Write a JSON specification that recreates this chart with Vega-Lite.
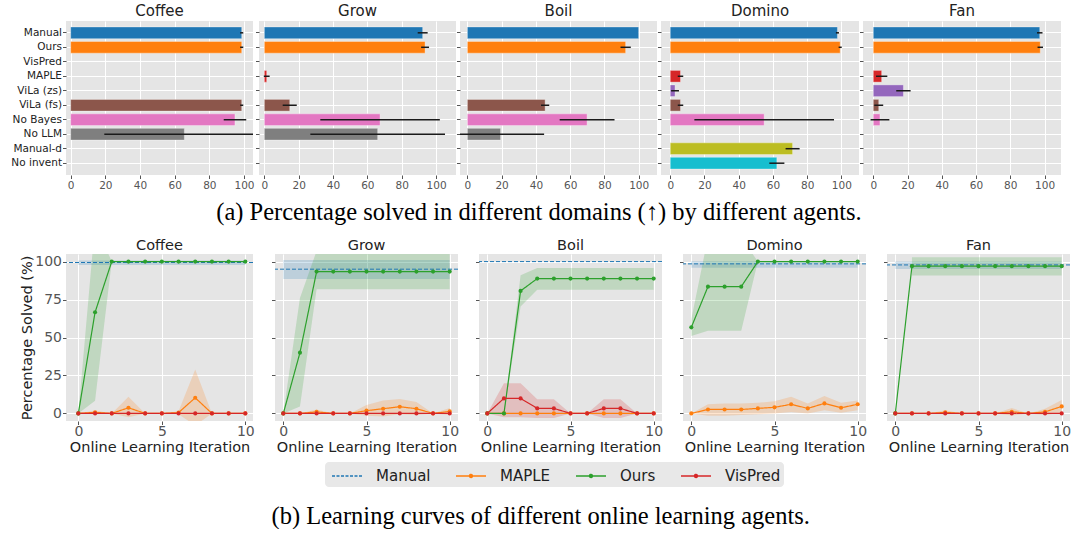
{
"$schema": "https://vega.github.io/schema/vega-lite/v6.json",
"background": "white",
"padding": {"left": 10, "top": 4, "right": 2, "bottom": 0},
"title": {"text": "(b) Learning curves of different online learning agents.", "orient": "bottom", "font": "Liberation Serif", "fontSize": 24.5, "fontWeight": "normal", "color": "#000000", "anchor": "middle", "offset": 18, "dx": 0},
"datasets": {
"bars": [
{"d":"Coffee","a":"Manual","v":98.7,"lo":97.8,"hi":99.6},
{"d":"Coffee","a":"Ours","v":98.7,"lo":97.8,"hi":99.6},
{"d":"Coffee","a":"ViLa (fs)","v":98.7,"lo":97.8,"hi":99.6},
{"d":"Coffee","a":"No Bayes","v":94.8,"lo":88.3,"hi":101.3},
{"d":"Coffee","a":"No LLM","v":65.6,"lo":19.4,"hi":111.8},
{"d":"Grow","a":"Manual","v":92.2,"lo":89.3,"hi":95.1},
{"d":"Grow","a":"Ours","v":93.6,"lo":91.3,"hi":95.9},
{"d":"Grow","a":"MAPLE","v":1.4,"lo":-0.3,"hi":3.1},
{"d":"Grow","a":"ViLa (fs)","v":14.8,"lo":10.7,"hi":18.9},
{"d":"Grow","a":"No Bayes","v":67.4,"lo":32.6,"hi":102.2},
{"d":"Grow","a":"No LLM","v":66,"lo":26.8,"hi":105.2},
{"d":"Boil","a":"Manual","v":100,"lo":100,"hi":100},
{"d":"Boil","a":"Ours","v":92.4,"lo":89.4,"hi":95.4},
{"d":"Boil","a":"ViLa (fs)","v":45.4,"lo":43,"hi":47.8},
{"d":"Boil","a":"No Bayes","v":69.9,"lo":53.9,"hi":85.9},
{"d":"Boil","a":"No LLM","v":19.4,"lo":-6,"hi":44.8},
{"d":"Domino","a":"Manual","v":97.7,"lo":96.8,"hi":98.6},
{"d":"Domino","a":"Ours","v":99.3,"lo":98.4,"hi":100.2},
{"d":"Domino","a":"MAPLE","v":6,"lo":4.4,"hi":7.6},
{"d":"Domino","a":"ViLa (zs)","v":2.8,"lo":0.5,"hi":5.1},
{"d":"Domino","a":"ViLa (fs)","v":6,"lo":4.4,"hi":7.6},
{"d":"Domino","a":"No Bayes","v":54.9,"lo":14.1,"hi":95.7},
{"d":"Domino","a":"Manual-d","v":71.5,"lo":67.4,"hi":75.6},
{"d":"Domino","a":"No invent","v":62.3,"lo":57.9,"hi":66.7},
{"d":"Fan","a":"Manual","v":97.2,"lo":95.6,"hi":98.8},
{"d":"Fan","a":"Ours","v":97.5,"lo":95.9,"hi":99.1},
{"d":"Fan","a":"MAPLE","v":4.9,"lo":1.6,"hi":8.2},
{"d":"Fan","a":"ViLa (zs)","v":17.6,"lo":13.4,"hi":21.8},
{"d":"Fan","a":"ViLa (fs)","v":3.2,"lo":0.6,"hi":5.8},
{"d":"Fan","a":"No Bayes","v":3.9,"lo":-1.6,"hi":9.4}
],
"curves": [
{"d":"Coffee","a":"Manual","x":0,"m":99.4,"lo":97.8,"hi":100.8},
{"d":"Coffee","a":"Manual","x":10,"m":99.4,"lo":97.8,"hi":100.8},
{"d":"Coffee","a":"MAPLE","x":0,"m":0,"lo":0,"hi":0},
{"d":"Coffee","a":"MAPLE","x":1,"m":0.7,"lo":-0.5,"hi":1.9},
{"d":"Coffee","a":"MAPLE","x":2,"m":0,"lo":0,"hi":0},
{"d":"Coffee","a":"MAPLE","x":3,"m":3.7,"lo":-2.5,"hi":11},
{"d":"Coffee","a":"MAPLE","x":4,"m":0,"lo":0,"hi":0},
{"d":"Coffee","a":"MAPLE","x":5,"m":0,"lo":0,"hi":0},
{"d":"Coffee","a":"MAPLE","x":6,"m":0.5,"lo":-0.5,"hi":1.5},
{"d":"Coffee","a":"MAPLE","x":7,"m":10.3,"lo":-8,"hi":29},
{"d":"Coffee","a":"MAPLE","x":8,"m":0,"lo":0,"hi":0},
{"d":"Coffee","a":"MAPLE","x":9,"m":0,"lo":0,"hi":0},
{"d":"Coffee","a":"MAPLE","x":10,"m":0,"lo":0,"hi":0},
{"d":"Coffee","a":"Ours","x":0,"m":0,"lo":0,"hi":0},
{"d":"Coffee","a":"Ours","x":1,"m":66.6,"lo":8.4,"hi":125},
{"d":"Coffee","a":"Ours","x":2,"m":100,"lo":100,"hi":100},
{"d":"Coffee","a":"Ours","x":3,"m":100,"lo":100,"hi":100},
{"d":"Coffee","a":"Ours","x":4,"m":100,"lo":100,"hi":100},
{"d":"Coffee","a":"Ours","x":5,"m":100,"lo":100,"hi":100},
{"d":"Coffee","a":"Ours","x":6,"m":100,"lo":100,"hi":100},
{"d":"Coffee","a":"Ours","x":7,"m":100,"lo":100,"hi":100},
{"d":"Coffee","a":"Ours","x":8,"m":100,"lo":100,"hi":100},
{"d":"Coffee","a":"Ours","x":9,"m":100,"lo":100,"hi":100},
{"d":"Coffee","a":"Ours","x":10,"m":100,"lo":100,"hi":100},
{"d":"Coffee","a":"VisPred","x":0,"m":0,"lo":0,"hi":0},
{"d":"Coffee","a":"VisPred","x":1,"m":0,"lo":0,"hi":0},
{"d":"Coffee","a":"VisPred","x":2,"m":0,"lo":0,"hi":0},
{"d":"Coffee","a":"VisPred","x":3,"m":0,"lo":0,"hi":0},
{"d":"Coffee","a":"VisPred","x":4,"m":0,"lo":0,"hi":0},
{"d":"Coffee","a":"VisPred","x":5,"m":0,"lo":0,"hi":0},
{"d":"Coffee","a":"VisPred","x":6,"m":0,"lo":0,"hi":0},
{"d":"Coffee","a":"VisPred","x":7,"m":0,"lo":0,"hi":0},
{"d":"Coffee","a":"VisPred","x":8,"m":0,"lo":0,"hi":0},
{"d":"Coffee","a":"VisPred","x":9,"m":0,"lo":0,"hi":0},
{"d":"Coffee","a":"VisPred","x":10,"m":0,"lo":0,"hi":0},
{"d":"Grow","a":"Manual","x":0,"m":95,"lo":88.6,"hi":101},
{"d":"Grow","a":"Manual","x":10,"m":95,"lo":88.6,"hi":101},
{"d":"Grow","a":"MAPLE","x":0,"m":0,"lo":0,"hi":0},
{"d":"Grow","a":"MAPLE","x":1,"m":0,"lo":0,"hi":0},
{"d":"Grow","a":"MAPLE","x":2,"m":1,"lo":-0.5,"hi":2.5},
{"d":"Grow","a":"MAPLE","x":3,"m":0,"lo":0,"hi":0},
{"d":"Grow","a":"MAPLE","x":4,"m":0,"lo":0,"hi":0},
{"d":"Grow","a":"MAPLE","x":5,"m":1.8,"lo":-1.5,"hi":5.5},
{"d":"Grow","a":"MAPLE","x":6,"m":3.1,"lo":-2,"hi":8.5},
{"d":"Grow","a":"MAPLE","x":7,"m":4.4,"lo":-0.5,"hi":9.5},
{"d":"Grow","a":"MAPLE","x":8,"m":3.1,"lo":-1,"hi":7.5},
{"d":"Grow","a":"MAPLE","x":9,"m":0,"lo":0,"hi":0},
{"d":"Grow","a":"MAPLE","x":10,"m":1.3,"lo":-1,"hi":3.6},
{"d":"Grow","a":"Ours","x":0,"m":0,"lo":0,"hi":0},
{"d":"Grow","a":"Ours","x":1,"m":40,"lo":4.5,"hi":76},
{"d":"Grow","a":"Ours","x":2,"m":93.4,"lo":81.8,"hi":107},
{"d":"Grow","a":"Ours","x":3,"m":93.4,"lo":81.8,"hi":107},
{"d":"Grow","a":"Ours","x":4,"m":93.4,"lo":81.8,"hi":107},
{"d":"Grow","a":"Ours","x":5,"m":93.4,"lo":81.8,"hi":107},
{"d":"Grow","a":"Ours","x":6,"m":93.4,"lo":81.8,"hi":107},
{"d":"Grow","a":"Ours","x":7,"m":93.4,"lo":81.8,"hi":107},
{"d":"Grow","a":"Ours","x":8,"m":93.4,"lo":81.8,"hi":107},
{"d":"Grow","a":"Ours","x":9,"m":93.4,"lo":81.8,"hi":107},
{"d":"Grow","a":"Ours","x":10,"m":93.4,"lo":81.8,"hi":107},
{"d":"Grow","a":"VisPred","x":0,"m":0,"lo":0,"hi":0},
{"d":"Grow","a":"VisPred","x":1,"m":0,"lo":0,"hi":0},
{"d":"Grow","a":"VisPred","x":2,"m":0,"lo":0,"hi":0},
{"d":"Grow","a":"VisPred","x":3,"m":0,"lo":0,"hi":0},
{"d":"Grow","a":"VisPred","x":4,"m":0,"lo":0,"hi":0},
{"d":"Grow","a":"VisPred","x":5,"m":0,"lo":0,"hi":0},
{"d":"Grow","a":"VisPred","x":6,"m":0,"lo":0,"hi":0},
{"d":"Grow","a":"VisPred","x":7,"m":0,"lo":0,"hi":0},
{"d":"Grow","a":"VisPred","x":8,"m":0,"lo":0,"hi":0},
{"d":"Grow","a":"VisPred","x":9,"m":0,"lo":0,"hi":0},
{"d":"Grow","a":"VisPred","x":10,"m":0,"lo":0,"hi":0},
{"d":"Boil","a":"Manual","x":0,"m":100,"lo":100,"hi":100},
{"d":"Boil","a":"Manual","x":10,"m":100,"lo":100,"hi":100},
{"d":"Boil","a":"MAPLE","x":0,"m":0,"lo":0,"hi":0},
{"d":"Boil","a":"MAPLE","x":1,"m":0,"lo":0,"hi":0},
{"d":"Boil","a":"MAPLE","x":2,"m":0,"lo":0,"hi":0},
{"d":"Boil","a":"MAPLE","x":3,"m":0,"lo":0,"hi":0},
{"d":"Boil","a":"MAPLE","x":4,"m":0,"lo":0,"hi":0},
{"d":"Boil","a":"MAPLE","x":5,"m":0,"lo":0,"hi":0},
{"d":"Boil","a":"MAPLE","x":6,"m":0,"lo":0,"hi":0},
{"d":"Boil","a":"MAPLE","x":7,"m":0,"lo":0,"hi":0},
{"d":"Boil","a":"MAPLE","x":8,"m":0,"lo":0,"hi":0},
{"d":"Boil","a":"MAPLE","x":9,"m":0,"lo":0,"hi":0},
{"d":"Boil","a":"MAPLE","x":10,"m":0,"lo":0,"hi":0},
{"d":"Boil","a":"Ours","x":0,"m":0,"lo":0,"hi":0},
{"d":"Boil","a":"Ours","x":1,"m":0,"lo":0,"hi":0},
{"d":"Boil","a":"Ours","x":2,"m":80.7,"lo":70.5,"hi":91},
{"d":"Boil","a":"Ours","x":3,"m":88.8,"lo":81.5,"hi":95.8},
{"d":"Boil","a":"Ours","x":4,"m":88.8,"lo":81.5,"hi":95.8},
{"d":"Boil","a":"Ours","x":5,"m":88.8,"lo":81.5,"hi":95.8},
{"d":"Boil","a":"Ours","x":6,"m":88.8,"lo":81.5,"hi":95.8},
{"d":"Boil","a":"Ours","x":7,"m":88.8,"lo":81.5,"hi":95.8},
{"d":"Boil","a":"Ours","x":8,"m":88.8,"lo":81.5,"hi":95.8},
{"d":"Boil","a":"Ours","x":9,"m":88.8,"lo":81.5,"hi":95.8},
{"d":"Boil","a":"Ours","x":10,"m":88.8,"lo":81.5,"hi":95.8},
{"d":"Boil","a":"VisPred","x":0,"m":0,"lo":0,"hi":0},
{"d":"Boil","a":"VisPred","x":1,"m":9.9,"lo":-2.6,"hi":19.8},
{"d":"Boil","a":"VisPred","x":2,"m":9.9,"lo":-2.6,"hi":19.8},
{"d":"Boil","a":"VisPred","x":3,"m":3.3,"lo":-3,"hi":9.4},
{"d":"Boil","a":"VisPred","x":4,"m":3.3,"lo":-3,"hi":9.4},
{"d":"Boil","a":"VisPred","x":5,"m":0,"lo":0,"hi":0},
{"d":"Boil","a":"VisPred","x":6,"m":0,"lo":0,"hi":0},
{"d":"Boil","a":"VisPred","x":7,"m":3.3,"lo":-3,"hi":9.4},
{"d":"Boil","a":"VisPred","x":8,"m":3.3,"lo":-3,"hi":9.4},
{"d":"Boil","a":"VisPred","x":9,"m":0,"lo":0,"hi":0},
{"d":"Boil","a":"VisPred","x":10,"m":0,"lo":0,"hi":0},
{"d":"Domino","a":"Manual","x":0,"m":98.5,"lo":96,"hi":100.3},
{"d":"Domino","a":"Manual","x":10,"m":98.5,"lo":96,"hi":100.3},
{"d":"Domino","a":"MAPLE","x":0,"m":0,"lo":0,"hi":0},
{"d":"Domino","a":"MAPLE","x":1,"m":2.6,"lo":-1.5,"hi":6},
{"d":"Domino","a":"MAPLE","x":2,"m":2.6,"lo":-1.5,"hi":6.5},
{"d":"Domino","a":"MAPLE","x":3,"m":2.6,"lo":-1,"hi":6.5},
{"d":"Domino","a":"MAPLE","x":4,"m":3.3,"lo":-0.5,"hi":7},
{"d":"Domino","a":"MAPLE","x":5,"m":4,"lo":0,"hi":8},
{"d":"Domino","a":"MAPLE","x":6,"m":6,"lo":1,"hi":11},
{"d":"Domino","a":"MAPLE","x":7,"m":3.3,"lo":0,"hi":6.5},
{"d":"Domino","a":"MAPLE","x":8,"m":6.6,"lo":2,"hi":11.5},
{"d":"Domino","a":"MAPLE","x":9,"m":3.7,"lo":0.5,"hi":7},
{"d":"Domino","a":"MAPLE","x":10,"m":6,"lo":2,"hi":8.5},
{"d":"Domino","a":"Ours","x":0,"m":56.7,"lo":51,"hi":62},
{"d":"Domino","a":"Ours","x":1,"m":83.5,"lo":54.5,"hi":116},
{"d":"Domino","a":"Ours","x":2,"m":83.5,"lo":54.5,"hi":116},
{"d":"Domino","a":"Ours","x":3,"m":83.5,"lo":54.5,"hi":116},
{"d":"Domino","a":"Ours","x":4,"m":100,"lo":100,"hi":100},
{"d":"Domino","a":"Ours","x":5,"m":100,"lo":100,"hi":100},
{"d":"Domino","a":"Ours","x":6,"m":100,"lo":100,"hi":100},
{"d":"Domino","a":"Ours","x":7,"m":100,"lo":100,"hi":100},
{"d":"Domino","a":"Ours","x":8,"m":100,"lo":100,"hi":100},
{"d":"Domino","a":"Ours","x":9,"m":100,"lo":100,"hi":100},
{"d":"Domino","a":"Ours","x":10,"m":100,"lo":100,"hi":100},
{"d":"Fan","a":"Manual","x":0,"m":97.8,"lo":95.2,"hi":100},
{"d":"Fan","a":"Manual","x":10,"m":97.8,"lo":95.2,"hi":100},
{"d":"Fan","a":"MAPLE","x":0,"m":0,"lo":0,"hi":0},
{"d":"Fan","a":"MAPLE","x":1,"m":0,"lo":0,"hi":0},
{"d":"Fan","a":"MAPLE","x":2,"m":0,"lo":0,"hi":0},
{"d":"Fan","a":"MAPLE","x":3,"m":0.7,"lo":-0.6,"hi":2},
{"d":"Fan","a":"MAPLE","x":4,"m":0,"lo":0,"hi":0},
{"d":"Fan","a":"MAPLE","x":5,"m":0,"lo":0,"hi":0},
{"d":"Fan","a":"MAPLE","x":6,"m":0,"lo":0,"hi":0},
{"d":"Fan","a":"MAPLE","x":7,"m":1.1,"lo":-1.3,"hi":3.5},
{"d":"Fan","a":"MAPLE","x":8,"m":0,"lo":0,"hi":0},
{"d":"Fan","a":"MAPLE","x":9,"m":1,"lo":-1,"hi":3},
{"d":"Fan","a":"MAPLE","x":10,"m":4.6,"lo":0.4,"hi":8.8},
{"d":"Fan","a":"Ours","x":0,"m":0,"lo":null,"hi":null},
{"d":"Fan","a":"Ours","x":1,"m":97,"lo":90.8,"hi":102.9},
{"d":"Fan","a":"Ours","x":2,"m":97,"lo":90.8,"hi":102.9},
{"d":"Fan","a":"Ours","x":3,"m":97,"lo":90.8,"hi":102.9},
{"d":"Fan","a":"Ours","x":4,"m":97,"lo":90.8,"hi":102.9},
{"d":"Fan","a":"Ours","x":5,"m":97,"lo":90.8,"hi":102.9},
{"d":"Fan","a":"Ours","x":6,"m":97,"lo":90.8,"hi":102.9},
{"d":"Fan","a":"Ours","x":7,"m":97,"lo":90.8,"hi":102.9},
{"d":"Fan","a":"Ours","x":8,"m":97,"lo":90.8,"hi":102.9},
{"d":"Fan","a":"Ours","x":9,"m":97,"lo":90.8,"hi":102.9},
{"d":"Fan","a":"Ours","x":10,"m":97,"lo":90.8,"hi":102.9},
{"d":"Fan","a":"VisPred","x":0,"m":0,"lo":0,"hi":0},
{"d":"Fan","a":"VisPred","x":1,"m":0,"lo":0,"hi":0},
{"d":"Fan","a":"VisPred","x":2,"m":0,"lo":0,"hi":0},
{"d":"Fan","a":"VisPred","x":3,"m":0,"lo":0,"hi":0},
{"d":"Fan","a":"VisPred","x":4,"m":0,"lo":0,"hi":0},
{"d":"Fan","a":"VisPred","x":5,"m":0,"lo":0,"hi":0},
{"d":"Fan","a":"VisPred","x":6,"m":0,"lo":0,"hi":0},
{"d":"Fan","a":"VisPred","x":7,"m":0,"lo":0,"hi":0},
{"d":"Fan","a":"VisPred","x":8,"m":0,"lo":0,"hi":0},
{"d":"Fan","a":"VisPred","x":9,"m":0,"lo":0,"hi":0},
{"d":"Fan","a":"VisPred","x":10,"m":0,"lo":0,"hi":0}
]
},
"spacing": 12,
"resolve": {"scale": {"color": "independent"}},
"vconcat": [
{
"data": {"name": "bars"},
"title": {"text": "(a) Percentage solved in different domains (↑) by different agents.", "orient": "bottom", "font": "Liberation Serif", "fontSize": 24.5, "fontWeight": "normal", "color": "#000000", "anchor": "middle", "offset": 10, "dx": 3},
"spacing": 0,
"resolve": {"scale": {"x": "independent", "y": "independent"}},
"hconcat": [
{"width": 187, "height": 154, "title": {"text": "Coffee", "fontSize": 15, "frame": "group", "offset": 2},
 "transform": [{"filter": "datum.d === 'Coffee'"}],
 "encoding": {"y": {"field": "a", "type": "nominal", "scale": {"domain": ["Manual","Ours","VisPred","MAPLE","ViLa (zs)","ViLa (fs)","No Bayes","No LLM","Manual-d","No invent"], "paddingInner": 0.19, "paddingOuter": 0.41}, "axis": {"title": null, "labelFontSize": 10.5, "labelColor": "#222222", "labelPadding": 1, "bandPosition": 0.5, "grid": true, "labelLimit": 200}}},
 "layer": [
  {"mark": {"type": "bar", "clip": true, "stroke": "#FFFFFF", "strokeOpacity": 0.35, "strokeWidth": 1}, "encoding": {"x": {"field": "v", "type": "quantitative", "scale": {"domain": [-2.7, 105.2], "nice": false}, "axis": {"values": [0,20,40,60,80,100], "title": null, "labelFontSize": 10.5, "labelPadding": 2, "labelOverlap": false, "labelFlush": false, "labelSeparation": 0}}, "color": {"field": "a", "type": "nominal", "scale": {"domain": ["Manual","Ours","VisPred","MAPLE","ViLa (zs)","ViLa (fs)","No Bayes","No LLM","Manual-d","No invent"], "range": ["#1f77b4","#ff7f0e","#2ca02c","#d62728","#9467bd","#8c564b","#e377c2","#7f7f7f","#bcbd22","#17becf"]}, "legend": null}}},
  {"mark": {"type": "rule", "clip": true, "color": "#1a1a1a", "strokeWidth": 1.5}, "encoding": {"x": {"field": "lo", "type": "quantitative", "scale": {"domain": [-2.7, 105.2], "nice": false}, "axis": {"values": [0,20,40,60,80,100], "title": null, "labelFontSize": 10.5, "labelPadding": 2, "labelOverlap": false, "labelFlush": false, "labelSeparation": 0}}, "x2": {"field": "hi"}}}
 ]},
{"width": 197, "height": 154, "title": {"text": "Grow", "fontSize": 15, "frame": "group", "offset": 2},
 "transform": [{"filter": "datum.d === 'Grow'"}],
 "encoding": {"y": {"field": "a", "type": "nominal", "scale": {"domain": ["Manual","Ours","VisPred","MAPLE","ViLa (zs)","ViLa (fs)","No Bayes","No LLM","Manual-d","No invent"], "paddingInner": 0.19, "paddingOuter": 0.41}, "axis": {"title": null, "labels": false, "bandPosition": 0.5, "grid": true}}},
 "layer": [
  {"mark": {"type": "bar", "clip": true, "stroke": "#FFFFFF", "strokeOpacity": 0.35, "strokeWidth": 1}, "encoding": {"x": {"field": "v", "type": "quantitative", "scale": {"domain": [-3.1, 111.6], "nice": false}, "axis": {"values": [0,20,40,60,80,100], "title": null, "labelFontSize": 10.5, "labelPadding": 2, "labelOverlap": false, "labelFlush": false, "labelSeparation": 0}}, "color": {"field": "a", "type": "nominal", "scale": {"domain": ["Manual","Ours","VisPred","MAPLE","ViLa (zs)","ViLa (fs)","No Bayes","No LLM","Manual-d","No invent"], "range": ["#1f77b4","#ff7f0e","#2ca02c","#d62728","#9467bd","#8c564b","#e377c2","#7f7f7f","#bcbd22","#17becf"]}, "legend": null}}},
  {"mark": {"type": "rule", "clip": true, "color": "#1a1a1a", "strokeWidth": 1.5}, "encoding": {"x": {"field": "lo", "type": "quantitative", "scale": {"domain": [-3.1, 111.6], "nice": false}, "axis": {"values": [0,20,40,60,80,100], "title": null, "labelFontSize": 10.5, "labelPadding": 2, "labelOverlap": false, "labelFlush": false, "labelSeparation": 0}}, "x2": {"field": "hi"}}}
 ]},
{"width": 197, "height": 154, "title": {"text": "Boil", "fontSize": 15, "frame": "group", "offset": 2},
 "transform": [{"filter": "datum.d === 'Boil'"}],
 "encoding": {"y": {"field": "a", "type": "nominal", "scale": {"domain": ["Manual","Ours","VisPred","MAPLE","ViLa (zs)","ViLa (fs)","No Bayes","No LLM","Manual-d","No invent"], "paddingInner": 0.19, "paddingOuter": 0.41}, "axis": {"title": null, "labels": false, "bandPosition": 0.5, "grid": true}}},
 "layer": [
  {"mark": {"type": "bar", "clip": true, "stroke": "#FFFFFF", "strokeOpacity": 0.35, "strokeWidth": 1}, "encoding": {"x": {"field": "v", "type": "quantitative", "scale": {"domain": [-4.3, 110.7], "nice": false}, "axis": {"values": [0,20,40,60,80,100], "title": null, "labelFontSize": 10.5, "labelPadding": 2, "labelOverlap": false, "labelFlush": false, "labelSeparation": 0}}, "color": {"field": "a", "type": "nominal", "scale": {"domain": ["Manual","Ours","VisPred","MAPLE","ViLa (zs)","ViLa (fs)","No Bayes","No LLM","Manual-d","No invent"], "range": ["#1f77b4","#ff7f0e","#2ca02c","#d62728","#9467bd","#8c564b","#e377c2","#7f7f7f","#bcbd22","#17becf"]}, "legend": null}}},
  {"mark": {"type": "rule", "clip": true, "color": "#1a1a1a", "strokeWidth": 1.5}, "encoding": {"x": {"field": "lo", "type": "quantitative", "scale": {"domain": [-4.3, 110.7], "nice": false}, "axis": {"values": [0,20,40,60,80,100], "title": null, "labelFontSize": 10.5, "labelPadding": 2, "labelOverlap": false, "labelFlush": false, "labelSeparation": 0}}, "x2": {"field": "hi"}}}
 ]},
{"width": 198, "height": 154, "title": {"text": "Domino", "fontSize": 15, "frame": "group", "offset": 2},
 "transform": [{"filter": "datum.d === 'Domino'"}],
 "encoding": {"y": {"field": "a", "type": "nominal", "scale": {"domain": ["Manual","Ours","VisPred","MAPLE","ViLa (zs)","ViLa (fs)","No Bayes","No LLM","Manual-d","No invent"], "paddingInner": 0.19, "paddingOuter": 0.41}, "axis": {"title": null, "labels": false, "bandPosition": 0.5, "grid": true}}},
 "layer": [
  {"mark": {"type": "bar", "clip": true, "stroke": "#FFFFFF", "strokeOpacity": 0.35, "strokeWidth": 1}, "encoding": {"x": {"field": "v", "type": "quantitative", "scale": {"domain": [-5.4, 110.3], "nice": false}, "axis": {"values": [0,20,40,60,80,100], "title": null, "labelFontSize": 10.5, "labelPadding": 2, "labelOverlap": false, "labelFlush": false, "labelSeparation": 0}}, "color": {"field": "a", "type": "nominal", "scale": {"domain": ["Manual","Ours","VisPred","MAPLE","ViLa (zs)","ViLa (fs)","No Bayes","No LLM","Manual-d","No invent"], "range": ["#1f77b4","#ff7f0e","#2ca02c","#d62728","#9467bd","#8c564b","#e377c2","#7f7f7f","#bcbd22","#17becf"]}, "legend": null}}},
  {"mark": {"type": "rule", "clip": true, "color": "#1a1a1a", "strokeWidth": 1.5}, "encoding": {"x": {"field": "lo", "type": "quantitative", "scale": {"domain": [-5.4, 110.3], "nice": false}, "axis": {"values": [0,20,40,60,80,100], "title": null, "labelFontSize": 10.5, "labelPadding": 2, "labelOverlap": false, "labelFlush": false, "labelSeparation": 0}}, "x2": {"field": "hi"}}}
 ]},
{"width": 198, "height": 154, "title": {"text": "Fan", "fontSize": 15, "frame": "group", "offset": 2},
 "transform": [{"filter": "datum.d === 'Fan'"}],
 "encoding": {"y": {"field": "a", "type": "nominal", "scale": {"domain": ["Manual","Ours","VisPred","MAPLE","ViLa (zs)","ViLa (fs)","No Bayes","No LLM","Manual-d","No invent"], "paddingInner": 0.19, "paddingOuter": 0.41}, "axis": {"title": null, "labels": false, "bandPosition": 0.5, "grid": true}}},
 "layer": [
  {"mark": {"type": "bar", "clip": true, "stroke": "#FFFFFF", "strokeOpacity": 0.35, "strokeWidth": 1}, "encoding": {"x": {"field": "v", "type": "quantitative", "scale": {"domain": [-6.0, 109.6], "nice": false}, "axis": {"values": [0,20,40,60,80,100], "title": null, "labelFontSize": 10.5, "labelPadding": 2, "labelOverlap": false, "labelFlush": false, "labelSeparation": 0}}, "color": {"field": "a", "type": "nominal", "scale": {"domain": ["Manual","Ours","VisPred","MAPLE","ViLa (zs)","ViLa (fs)","No Bayes","No LLM","Manual-d","No invent"], "range": ["#1f77b4","#ff7f0e","#2ca02c","#d62728","#9467bd","#8c564b","#e377c2","#7f7f7f","#bcbd22","#17becf"]}, "legend": null}}},
  {"mark": {"type": "rule", "clip": true, "color": "#1a1a1a", "strokeWidth": 1.5}, "encoding": {"x": {"field": "lo", "type": "quantitative", "scale": {"domain": [-6.0, 109.6], "nice": false}, "axis": {"values": [0,20,40,60,80,100], "title": null, "labelFontSize": 10.5, "labelPadding": 2, "labelOverlap": false, "labelFlush": false, "labelSeparation": 0}}, "x2": {"field": "hi"}}}
 ]}
]
},
{
"data": {"name": "curves"},
"spacing": 16,
"resolve": {"scale": {"x": "independent", "y": "independent"}},
"hconcat": [
{"width": 187, "height": 167, "title": {"text": "Coffee", "fontSize": 14.5, "frame": "group", "offset": 1},
 "transform": [{"filter": "datum.d === 'Coffee'"}],
 "layer": [
  {"transform": [{"filter": "datum.a === 'Manual'"}], "mark": {"type": "area", "opacity": 0.2, "clip": true},
   "encoding": {"x": {"field": "x", "type": "quantitative", "scale": {"domain": [-0.74, 10.46], "nice": false, "zero": false}, "axis": {"values": [0,5,10], "title": "Online Learning Iteration", "labelFontSize": 14, "titleFontSize": 14.5, "labelPadding": 0, "titlePadding": 2}},
    "y": {"field": "lo", "type": "quantitative", "scale": {"domain": [-5, 105], "nice": false, "zero": false}, "axis": {"values": [0,25,50,75,100], "title": "Percentage Solved (%)", "labelFontSize": 14, "titleFontSize": 14.5, "labelPadding": 1, "titlePadding": 0}},
    "y2": {"field": "hi"},
    "fill": {"field": "a", "type": "nominal", "scale": {"domain": ["Manual","MAPLE","Ours","VisPred"], "range": ["#1f77b4","#ff7f0e","#2ca02c","#d62728"]}, "legend": null}}},
  {"transform": [{"filter": "datum.a !== 'Manual'"}], "mark": {"type": "area", "opacity": 0.2, "clip": true},
   "encoding": {"x": {"field": "x", "type": "quantitative"}, "y": {"field": "lo", "type": "quantitative"}, "y2": {"field": "hi"},
    "fill": {"field": "a", "type": "nominal", "scale": {"domain": ["Manual","MAPLE","Ours","VisPred"], "range": ["#1f77b4","#ff7f0e","#2ca02c","#d62728"]}, "legend": null}}},
  {"transform": [{"filter": "datum.a === 'Manual' && datum.x === 0"}], "mark": {"type": "rule", "strokeWidth": 1},
   "encoding": {"y": {"field": "m", "type": "quantitative"},
    "color": {"field": "a", "type": "nominal", "title": null, "scale": {"domain": ["Manual","MAPLE","Ours","VisPred"], "range": ["#1f77b4","#ff7f0e","#2ca02c","#d62728"]}, "legend": {"encode": {"symbols": {"update": {"shape": {"signal": "datum.value === 'Manual' ? 'M-0.7,0H2.3' : 'M-0.7,0H2.3M0.95,0A0.15,0.15 0 1 1 0.65,0A0.15,0.15 0 1 1 0.95,0'"}, "strokeDash": {"signal": "datum.value === 'Manual' ? [3,1.5] : [1,0]"}}}}}},
    "strokeDash": {"field": "a", "type": "nominal", "title": null, "legend": null, "scale": {"domain": ["Manual","MAPLE","Ours","VisPred"], "range": [[4,2],[1,0],[1,0],[1,0]]}}}},
  {"transform": [{"filter": "datum.a !== 'Manual'"}], "mark": {"type": "line", "strokeWidth": 1.2, "clip": true},
   "encoding": {"x": {"field": "x", "type": "quantitative"}, "y": {"field": "m", "type": "quantitative"},
    "color": {"field": "a", "type": "nominal", "title": null, "scale": {"domain": ["Manual","MAPLE","Ours","VisPred"], "range": ["#1f77b4","#ff7f0e","#2ca02c","#d62728"]}},
    "strokeDash": {"field": "a", "type": "nominal", "title": null, "legend": null, "scale": {"domain": ["Manual","MAPLE","Ours","VisPred"], "range": [[4,2],[1,0],[1,0],[1,0]]}}}},
  {"transform": [{"filter": "datum.a !== 'Manual'"}], "mark": {"type": "point", "filled": true, "size": 17, "opacity": 1},
   "encoding": {"x": {"field": "x", "type": "quantitative"}, "y": {"field": "m", "type": "quantitative"},
    "fill": {"field": "a", "type": "nominal", "scale": {"domain": ["Manual","MAPLE","Ours","VisPred"], "range": ["#1f77b4","#ff7f0e","#2ca02c","#d62728"]}, "legend": null}}}
 ]},
{"width": 183, "height": 167, "title": {"text": "Grow", "fontSize": 14.5, "frame": "group", "offset": 1},
 "transform": [{"filter": "datum.d === 'Grow'"}],
 "layer": [
  {"transform": [{"filter": "datum.a === 'Manual'"}], "mark": {"type": "area", "opacity": 0.2, "clip": true},
   "encoding": {"x": {"field": "x", "type": "quantitative", "scale": {"domain": [-0.5, 10.5], "nice": false, "zero": false}, "axis": {"values": [0,5,10], "title": "Online Learning Iteration", "labelFontSize": 14, "titleFontSize": 14.5, "labelPadding": 0, "titlePadding": 2}},
    "y": {"field": "lo", "type": "quantitative", "scale": {"domain": [-5, 105], "nice": false, "zero": false}, "axis": {"values": [0,25,50,75,100], "title": null, "labels": false}},
    "y2": {"field": "hi"},
    "fill": {"field": "a", "type": "nominal", "scale": {"domain": ["Manual","MAPLE","Ours","VisPred"], "range": ["#1f77b4","#ff7f0e","#2ca02c","#d62728"]}, "legend": null}}},
  {"transform": [{"filter": "datum.a !== 'Manual'"}], "mark": {"type": "area", "opacity": 0.2, "clip": true},
   "encoding": {"x": {"field": "x", "type": "quantitative"}, "y": {"field": "lo", "type": "quantitative"}, "y2": {"field": "hi"},
    "fill": {"field": "a", "type": "nominal", "scale": {"domain": ["Manual","MAPLE","Ours","VisPred"], "range": ["#1f77b4","#ff7f0e","#2ca02c","#d62728"]}, "legend": null}}},
  {"transform": [{"filter": "datum.a === 'Manual' && datum.x === 0"}], "mark": {"type": "rule", "strokeWidth": 1},
   "encoding": {"y": {"field": "m", "type": "quantitative"},
    "color": {"field": "a", "type": "nominal", "title": null, "scale": {"domain": ["Manual","MAPLE","Ours","VisPred"], "range": ["#1f77b4","#ff7f0e","#2ca02c","#d62728"]}},
    "strokeDash": {"field": "a", "type": "nominal", "title": null, "legend": null, "scale": {"domain": ["Manual","MAPLE","Ours","VisPred"], "range": [[4,2],[1,0],[1,0],[1,0]]}}}},
  {"transform": [{"filter": "datum.a !== 'Manual'"}], "mark": {"type": "line", "strokeWidth": 1.2, "clip": true},
   "encoding": {"x": {"field": "x", "type": "quantitative"}, "y": {"field": "m", "type": "quantitative"},
    "color": {"field": "a", "type": "nominal", "title": null, "scale": {"domain": ["Manual","MAPLE","Ours","VisPred"], "range": ["#1f77b4","#ff7f0e","#2ca02c","#d62728"]}},
    "strokeDash": {"field": "a", "type": "nominal", "title": null, "legend": null, "scale": {"domain": ["Manual","MAPLE","Ours","VisPred"], "range": [[4,2],[1,0],[1,0],[1,0]]}}}},
  {"transform": [{"filter": "datum.a !== 'Manual'"}], "mark": {"type": "point", "filled": true, "size": 17, "opacity": 1},
   "encoding": {"x": {"field": "x", "type": "quantitative"}, "y": {"field": "m", "type": "quantitative"},
    "fill": {"field": "a", "type": "nominal", "scale": {"domain": ["Manual","MAPLE","Ours","VisPred"], "range": ["#1f77b4","#ff7f0e","#2ca02c","#d62728"]}, "legend": null}}}
 ]},
{"width": 183, "height": 167, "title": {"text": "Boil", "fontSize": 14.5, "frame": "group", "offset": 1},
 "transform": [{"filter": "datum.d === 'Boil'"}],
 "layer": [
  {"transform": [{"filter": "datum.a === 'Manual'"}], "mark": {"type": "area", "opacity": 0.2, "clip": true},
   "encoding": {"x": {"field": "x", "type": "quantitative", "scale": {"domain": [-0.5, 10.5], "nice": false, "zero": false}, "axis": {"values": [0,5,10], "title": "Online Learning Iteration", "labelFontSize": 14, "titleFontSize": 14.5, "labelPadding": 0, "titlePadding": 2}},
    "y": {"field": "lo", "type": "quantitative", "scale": {"domain": [-5, 105], "nice": false, "zero": false}, "axis": {"values": [0,25,50,75,100], "title": null, "labels": false}},
    "y2": {"field": "hi"},
    "fill": {"field": "a", "type": "nominal", "scale": {"domain": ["Manual","MAPLE","Ours","VisPred"], "range": ["#1f77b4","#ff7f0e","#2ca02c","#d62728"]}, "legend": null}}},
  {"transform": [{"filter": "datum.a !== 'Manual'"}], "mark": {"type": "area", "opacity": 0.2, "clip": true},
   "encoding": {"x": {"field": "x", "type": "quantitative"}, "y": {"field": "lo", "type": "quantitative"}, "y2": {"field": "hi"},
    "fill": {"field": "a", "type": "nominal", "scale": {"domain": ["Manual","MAPLE","Ours","VisPred"], "range": ["#1f77b4","#ff7f0e","#2ca02c","#d62728"]}, "legend": null}}},
  {"transform": [{"filter": "datum.a === 'Manual' && datum.x === 0"}], "mark": {"type": "rule", "strokeWidth": 1},
   "encoding": {"y": {"field": "m", "type": "quantitative"},
    "color": {"field": "a", "type": "nominal", "title": null, "scale": {"domain": ["Manual","MAPLE","Ours","VisPred"], "range": ["#1f77b4","#ff7f0e","#2ca02c","#d62728"]}},
    "strokeDash": {"field": "a", "type": "nominal", "title": null, "legend": null, "scale": {"domain": ["Manual","MAPLE","Ours","VisPred"], "range": [[4,2],[1,0],[1,0],[1,0]]}}}},
  {"transform": [{"filter": "datum.a !== 'Manual'"}], "mark": {"type": "line", "strokeWidth": 1.2, "clip": true},
   "encoding": {"x": {"field": "x", "type": "quantitative"}, "y": {"field": "m", "type": "quantitative"},
    "color": {"field": "a", "type": "nominal", "title": null, "scale": {"domain": ["Manual","MAPLE","Ours","VisPred"], "range": ["#1f77b4","#ff7f0e","#2ca02c","#d62728"]}},
    "strokeDash": {"field": "a", "type": "nominal", "title": null, "legend": null, "scale": {"domain": ["Manual","MAPLE","Ours","VisPred"], "range": [[4,2],[1,0],[1,0],[1,0]]}}}},
  {"transform": [{"filter": "datum.a !== 'Manual'"}], "mark": {"type": "point", "filled": true, "size": 17, "opacity": 1},
   "encoding": {"x": {"field": "x", "type": "quantitative"}, "y": {"field": "m", "type": "quantitative"},
    "fill": {"field": "a", "type": "nominal", "scale": {"domain": ["Manual","MAPLE","Ours","VisPred"], "range": ["#1f77b4","#ff7f0e","#2ca02c","#d62728"]}, "legend": null}}}
 ]},
{"width": 183, "height": 167, "title": {"text": "Domino", "fontSize": 14.5, "frame": "group", "offset": 1},
 "transform": [{"filter": "datum.d === 'Domino'"}],
 "layer": [
  {"transform": [{"filter": "datum.a === 'Manual'"}], "mark": {"type": "area", "opacity": 0.2, "clip": true},
   "encoding": {"x": {"field": "x", "type": "quantitative", "scale": {"domain": [-0.5, 10.5], "nice": false, "zero": false}, "axis": {"values": [0,5,10], "title": "Online Learning Iteration", "labelFontSize": 14, "titleFontSize": 14.5, "labelPadding": 0, "titlePadding": 2}},
    "y": {"field": "lo", "type": "quantitative", "scale": {"domain": [-5, 105], "nice": false, "zero": false}, "axis": {"values": [0,25,50,75,100], "title": null, "labels": false}},
    "y2": {"field": "hi"},
    "fill": {"field": "a", "type": "nominal", "scale": {"domain": ["Manual","MAPLE","Ours","VisPred"], "range": ["#1f77b4","#ff7f0e","#2ca02c","#d62728"]}, "legend": null}}},
  {"transform": [{"filter": "datum.a !== 'Manual'"}], "mark": {"type": "area", "opacity": 0.2, "clip": true},
   "encoding": {"x": {"field": "x", "type": "quantitative"}, "y": {"field": "lo", "type": "quantitative"}, "y2": {"field": "hi"},
    "fill": {"field": "a", "type": "nominal", "scale": {"domain": ["Manual","MAPLE","Ours","VisPred"], "range": ["#1f77b4","#ff7f0e","#2ca02c","#d62728"]}, "legend": null}}},
  {"transform": [{"filter": "datum.a === 'Manual' && datum.x === 0"}], "mark": {"type": "rule", "strokeWidth": 1},
   "encoding": {"y": {"field": "m", "type": "quantitative"},
    "color": {"field": "a", "type": "nominal", "title": null, "scale": {"domain": ["Manual","MAPLE","Ours","VisPred"], "range": ["#1f77b4","#ff7f0e","#2ca02c","#d62728"]}},
    "strokeDash": {"field": "a", "type": "nominal", "title": null, "legend": null, "scale": {"domain": ["Manual","MAPLE","Ours","VisPred"], "range": [[4,2],[1,0],[1,0],[1,0]]}}}},
  {"transform": [{"filter": "datum.a !== 'Manual'"}], "mark": {"type": "line", "strokeWidth": 1.2, "clip": true},
   "encoding": {"x": {"field": "x", "type": "quantitative"}, "y": {"field": "m", "type": "quantitative"},
    "color": {"field": "a", "type": "nominal", "title": null, "scale": {"domain": ["Manual","MAPLE","Ours","VisPred"], "range": ["#1f77b4","#ff7f0e","#2ca02c","#d62728"]}},
    "strokeDash": {"field": "a", "type": "nominal", "title": null, "legend": null, "scale": {"domain": ["Manual","MAPLE","Ours","VisPred"], "range": [[4,2],[1,0],[1,0],[1,0]]}}}},
  {"transform": [{"filter": "datum.a !== 'Manual'"}], "mark": {"type": "point", "filled": true, "size": 17, "opacity": 1},
   "encoding": {"x": {"field": "x", "type": "quantitative"}, "y": {"field": "m", "type": "quantitative"},
    "fill": {"field": "a", "type": "nominal", "scale": {"domain": ["Manual","MAPLE","Ours","VisPred"], "range": ["#1f77b4","#ff7f0e","#2ca02c","#d62728"]}, "legend": null}}}
 ]},
{"width": 183, "height": 167, "title": {"text": "Fan", "fontSize": 14.5, "frame": "group", "offset": 1},
 "transform": [{"filter": "datum.d === 'Fan'"}],
 "layer": [
  {"transform": [{"filter": "datum.a === 'Manual'"}], "mark": {"type": "area", "opacity": 0.2, "clip": true},
   "encoding": {"x": {"field": "x", "type": "quantitative", "scale": {"domain": [-0.5, 10.5], "nice": false, "zero": false}, "axis": {"values": [0,5,10], "title": "Online Learning Iteration", "labelFontSize": 14, "titleFontSize": 14.5, "labelPadding": 0, "titlePadding": 2}},
    "y": {"field": "lo", "type": "quantitative", "scale": {"domain": [-5, 105], "nice": false, "zero": false}, "axis": {"values": [0,25,50,75,100], "title": null, "labels": false}},
    "y2": {"field": "hi"},
    "fill": {"field": "a", "type": "nominal", "scale": {"domain": ["Manual","MAPLE","Ours","VisPred"], "range": ["#1f77b4","#ff7f0e","#2ca02c","#d62728"]}, "legend": null}}},
  {"transform": [{"filter": "datum.a !== 'Manual'"}], "mark": {"type": "area", "opacity": 0.2, "clip": true},
   "encoding": {"x": {"field": "x", "type": "quantitative"}, "y": {"field": "lo", "type": "quantitative"}, "y2": {"field": "hi"},
    "fill": {"field": "a", "type": "nominal", "scale": {"domain": ["Manual","MAPLE","Ours","VisPred"], "range": ["#1f77b4","#ff7f0e","#2ca02c","#d62728"]}, "legend": null}}},
  {"transform": [{"filter": "datum.a === 'Manual' && datum.x === 0"}], "mark": {"type": "rule", "strokeWidth": 1},
   "encoding": {"y": {"field": "m", "type": "quantitative"},
    "color": {"field": "a", "type": "nominal", "title": null, "scale": {"domain": ["Manual","MAPLE","Ours","VisPred"], "range": ["#1f77b4","#ff7f0e","#2ca02c","#d62728"]}},
    "strokeDash": {"field": "a", "type": "nominal", "title": null, "legend": null, "scale": {"domain": ["Manual","MAPLE","Ours","VisPred"], "range": [[4,2],[1,0],[1,0],[1,0]]}}}},
  {"transform": [{"filter": "datum.a !== 'Manual'"}], "mark": {"type": "line", "strokeWidth": 1.2, "clip": true},
   "encoding": {"x": {"field": "x", "type": "quantitative"}, "y": {"field": "m", "type": "quantitative"},
    "color": {"field": "a", "type": "nominal", "title": null, "scale": {"domain": ["Manual","MAPLE","Ours","VisPred"], "range": ["#1f77b4","#ff7f0e","#2ca02c","#d62728"]}},
    "strokeDash": {"field": "a", "type": "nominal", "title": null, "legend": null, "scale": {"domain": ["Manual","MAPLE","Ours","VisPred"], "range": [[4,2],[1,0],[1,0],[1,0]]}}}},
  {"transform": [{"filter": "datum.a !== 'Manual'"}], "mark": {"type": "point", "filled": true, "size": 17, "opacity": 1},
   "encoding": {"x": {"field": "x", "type": "quantitative"}, "y": {"field": "m", "type": "quantitative"},
    "fill": {"field": "a", "type": "nominal", "scale": {"domain": ["Manual","MAPLE","Ours","VisPred"], "range": ["#1f77b4","#ff7f0e","#2ca02c","#d62728"]}, "legend": null}}}
 ]}
]
}
],
"config": {
 "font": "DejaVu Sans",
 "view": {"fill": "#E5E5E5", "stroke": null},
 "axis": {"domain": false, "gridColor": "#FFFFFF", "gridWidth": 1, "tickColor": "#555555", "tickSize": 3.5, "labelColor": "#555555", "labelFont": "DejaVu Sans", "titleFont": "DejaVu Sans", "titleFontWeight": "normal", "titleColor": "#222222"},
 "title": {"font": "DejaVu Sans", "fontWeight": "normal", "color": "#222222"},
 "legend": {"orient": "none", "legendX": 259, "legendY": 208, "direction": "horizontal", "symbolType": "stroke", "symbolSize": 400, "symbolStrokeWidth": 1.5, "labelFontSize": 15, "labelFont": "DejaVu Sans", "labelColor": "#222222", "labelOffset": 26, "columnPadding": 21, "padding": 3, "fillColor": "#E8E8E8", "cornerRadius": 4}
}
}
